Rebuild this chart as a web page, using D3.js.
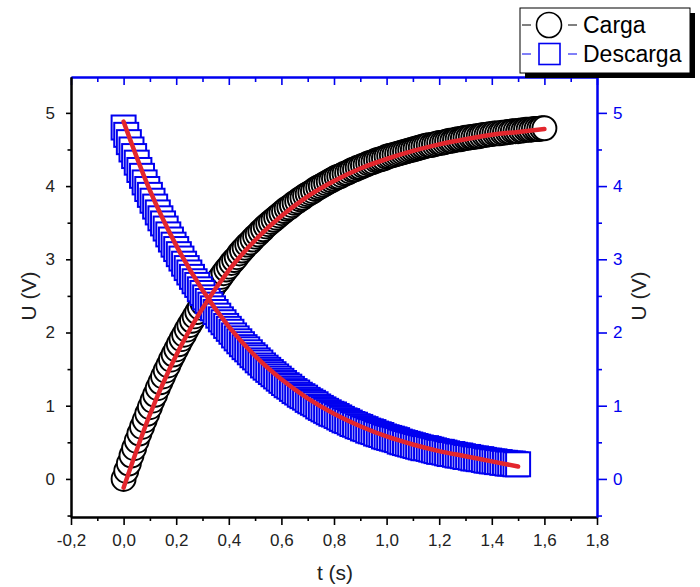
<html>

<head>
	<meta charset="utf-8">
	<script src="https://d3js.org/d3.v7.min.js"></script>
	<style>
		body { margin: 0; background: #fff; }
		text { font-family: "Liberation Sans", Arial, sans-serif; }
	</style>
</head>

<body>
	<svg width="700" height="587"></svg>
	<script>
		// charge measurement (t in s, U in V)
		var tCarga = [0, 0.01, 0.02, 0.03, 0.04, 0.05, 0.06, 0.07, 0.08, 0.09,
			0.10, 0.11, 0.12, 0.13, 0.14, 0.15, 0.16, 0.17, 0.18, 0.19,
			0.20, 0.21, 0.22, 0.23, 0.24, 0.25, 0.26, 0.27, 0.28, 0.29,
			0.30, 0.31, 0.32, 0.33, 0.34, 0.35, 0.36, 0.37, 0.38, 0.39,
			0.40, 0.41, 0.42, 0.43, 0.44, 0.45, 0.46, 0.47, 0.48, 0.49,
			0.50, 0.51, 0.52, 0.53, 0.54, 0.55, 0.56, 0.57, 0.58, 0.59,
			0.60, 0.61, 0.62, 0.63, 0.64, 0.65, 0.66, 0.67, 0.68, 0.69,
			0.70, 0.71, 0.72, 0.73, 0.74, 0.75, 0.76, 0.77, 0.78, 0.79,
			0.80, 0.81, 0.82, 0.83, 0.84, 0.85, 0.86, 0.87, 0.88, 0.89,
			0.90, 0.91, 0.92, 0.93, 0.94, 0.95, 0.96, 0.97, 0.98, 0.99,
			1.00, 1.01, 1.02, 1.03, 1.04, 1.05, 1.06, 1.07, 1.08, 1.09,
			1.10, 1.11, 1.12, 1.13, 1.14, 1.15, 1.16, 1.17, 1.18, 1.19,
			1.20, 1.21, 1.22, 1.23, 1.24, 1.25, 1.26, 1.27, 1.28, 1.29,
			1.30, 1.31, 1.32, 1.33, 1.34, 1.35, 1.36, 1.37, 1.38, 1.39,
			1.40, 1.41, 1.42, 1.43, 1.44, 1.45, 1.46, 1.47, 1.48, 1.49,
			1.50, 1.51, 1.52, 1.53, 1.54, 1.55, 1.56, 1.57, 1.58, 1.59,
			1.60];
		var uCarga = [0, 0.11, 0.21, 0.32, 0.42, 0.52, 0.62, 0.71, 0.80, 0.89,
			0.98, 1.07, 1.15, 1.24, 1.32, 1.40, 1.48, 1.55, 1.63, 1.70,
			1.77, 1.84, 1.91, 1.97, 2.04, 2.10, 2.16, 2.22, 2.28, 2.34,
			2.40, 2.45, 2.51, 2.56, 2.61, 2.67, 2.71, 2.76, 2.81, 2.86,
			2.90, 2.95, 2.99, 3.03, 3.08, 3.12, 3.16, 3.20, 3.23, 3.27,
			3.31, 3.34, 3.38, 3.41, 3.45, 3.48, 3.51, 3.54, 3.57, 3.60,
			3.63, 3.66, 3.69, 3.71, 3.74, 3.77, 3.79, 3.82, 3.84, 3.87,
			3.89, 3.91, 3.93, 3.96, 3.98, 4.00, 4.02, 4.04, 4.06, 4.08,
			4.10, 4.12, 4.13, 4.15, 4.17, 4.18, 4.20, 4.22, 4.23, 4.25,
			4.26, 4.28, 4.29, 4.31, 4.32, 4.33, 4.35, 4.36, 4.37, 4.38,
			4.40, 4.41, 4.42, 4.43, 4.44, 4.45, 4.46, 4.47, 4.48, 4.49,
			4.50, 4.51, 4.52, 4.53, 4.54, 4.55, 4.56, 4.56, 4.57, 4.58,
			4.59, 4.59, 4.60, 4.61, 4.62, 4.62, 4.63, 4.64, 4.64, 4.65,
			4.66, 4.66, 4.67, 4.67, 4.68, 4.68, 4.69, 4.70, 4.70, 4.71,
			4.71, 4.72, 4.72, 4.72, 4.73, 4.73, 4.74, 4.74, 4.75, 4.75,
			4.75, 4.76, 4.76, 4.77, 4.77, 4.77, 4.78, 4.78, 4.78, 4.79,
			4.79];

		// discharge measurement
		var tDescarga = [0, 0.01, 0.02, 0.03, 0.04, 0.05, 0.06, 0.07, 0.08, 0.09,
			0.10, 0.11, 0.12, 0.13, 0.14, 0.15, 0.16, 0.17, 0.18, 0.19,
			0.20, 0.21, 0.22, 0.23, 0.24, 0.25, 0.26, 0.27, 0.28, 0.29,
			0.30, 0.31, 0.32, 0.33, 0.34, 0.35, 0.36, 0.37, 0.38, 0.39,
			0.40, 0.41, 0.42, 0.43, 0.44, 0.45, 0.46, 0.47, 0.48, 0.49,
			0.50, 0.51, 0.52, 0.53, 0.54, 0.55, 0.56, 0.57, 0.58, 0.59,
			0.60, 0.61, 0.62, 0.63, 0.64, 0.65, 0.66, 0.67, 0.68, 0.69,
			0.70, 0.71, 0.72, 0.73, 0.74, 0.75, 0.76, 0.77, 0.78, 0.79,
			0.80, 0.81, 0.82, 0.83, 0.84, 0.85, 0.86, 0.87, 0.88, 0.89,
			0.90, 0.91, 0.92, 0.93, 0.94, 0.95, 0.96, 0.97, 0.98, 0.99,
			1.00, 1.01, 1.02, 1.03, 1.04, 1.05, 1.06, 1.07, 1.08, 1.09,
			1.10, 1.11, 1.12, 1.13, 1.14, 1.15, 1.16, 1.17, 1.18, 1.19,
			1.20, 1.21, 1.22, 1.23, 1.24, 1.25, 1.26, 1.27, 1.28, 1.29,
			1.30, 1.31, 1.32, 1.33, 1.34, 1.35, 1.36, 1.37, 1.38, 1.39,
			1.40, 1.41, 1.42, 1.43, 1.44, 1.45, 1.46, 1.47, 1.48, 1.49,
			1.50];
		var uDescarga = [4.80, 4.70, 4.60, 4.50, 4.41, 4.32, 4.22, 4.14, 4.05, 3.96,
			3.88, 3.80, 3.72, 3.64, 3.56, 3.49, 3.42, 3.34, 3.27, 3.20,
			3.14, 3.07, 3.01, 2.94, 2.88, 2.82, 2.76, 2.70, 2.65, 2.59,
			2.54, 2.48, 2.43, 2.38, 2.33, 2.28, 2.23, 2.18, 2.14, 2.09,
			2.05, 2.01, 1.96, 1.92, 1.88, 1.84, 1.80, 1.77, 1.73, 1.69,
			1.66, 1.62, 1.59, 1.55, 1.52, 1.49, 1.46, 1.43, 1.40, 1.37,
			1.34, 1.31, 1.28, 1.26, 1.23, 1.20, 1.18, 1.15, 1.13, 1.11,
			1.08, 1.06, 1.04, 1.02, 0.99, 0.97, 0.95, 0.93, 0.91, 0.89,
			0.88, 0.86, 0.84, 0.82, 0.80, 0.79, 0.77, 0.75, 0.74, 0.72,
			0.71, 0.69, 0.68, 0.66, 0.65, 0.64, 0.62, 0.61, 0.60, 0.58,
			0.57, 0.56, 0.55, 0.54, 0.53, 0.51, 0.50, 0.49, 0.48, 0.47,
			0.46, 0.45, 0.44, 0.43, 0.42, 0.42, 0.41, 0.40, 0.39, 0.38,
			0.37, 0.37, 0.36, 0.35, 0.34, 0.34, 0.33, 0.32, 0.32, 0.31,
			0.30, 0.30, 0.29, 0.28, 0.28, 0.27, 0.27, 0.26, 0.25, 0.25,
			0.24, 0.24, 0.23, 0.23, 0.22, 0.22, 0.21, 0.21, 0.21, 0.20,
			0.20];

		// fitted curves (red)
		var tFitCarga = [0, 0.1, 0.2, 0.3, 0.4, 0.5, 0.6, 0.7, 0.8, 0.9, 1.0, 1.1, 1.2, 1.3, 1.4, 1.5, 1.6];
		var uFitCarga = [-0.12, 0.88, 1.69, 2.33, 2.85, 3.26, 3.59, 3.86, 4.07, 4.24, 4.37, 4.48, 4.57, 4.64, 4.70, 4.74, 4.78];
		var tFitDescarga = [0, 0.1, 0.2, 0.3, 0.4, 0.5, 0.6, 0.7, 0.8, 0.9, 1.0, 1.1, 1.2, 1.3, 1.4, 1.5];
		var uFitDescarga = [4.88, 3.94, 3.19, 2.58, 2.08, 1.68, 1.36, 1.10, 0.89, 0.72, 0.58, 0.47, 0.38, 0.31, 0.24, 0.17];

		var xTicks = [-0.2, 0, 0.2, 0.4, 0.6, 0.8, 1.0, 1.2, 1.4, 1.6, 1.8];
		var xMinor = [-0.1, 0.1, 0.3, 0.5, 0.7, 0.9, 1.1, 1.3, 1.5, 1.7];
		var yTicks = [0, 1, 2, 3, 4, 5];
		var yMinor = [-0.5, 0.5, 1.5, 2.5, 3.5, 4.5];
		var legend = ["Carga", "Descarga"];

		var svg = d3.select("svg");
		var xLeft = 71, xRight = 597, yTop = 77, yBottom = 517;
		var blue = "#0000f0";
		var red = "#e3262d";

		var x = d3.scaleLinear().domain([-0.2, 1.8]).range([xLeft, xRight]);
		var y = d3.scaleLinear().domain([-0.52, 5.49]).range([yBottom, yTop]);

		var fmt = function (d) { return d3.format(".1f")(d).replace(".", ",").replace("\u2212", "-"); };

		// data markers
		svg.append("g")
			.selectAll("circle")
			.data(tCarga)
			.enter().append("circle")
			.attr("cx", function (d) { return x(d); })
			.attr("cy", function (d, i) { return y(uCarga[i]); })
			.attr("r", 12)
			.attr("fill", "white")
			.attr("stroke", "black")
			.attr("stroke-width", 1.9);

		svg.append("g")
			.selectAll("rect")
			.data(tDescarga)
			.enter().append("rect")
			.attr("x", function (d) { return x(d) - 12; })
			.attr("y", function (d, i) { return y(uDescarga[i]) - 12; })
			.attr("width", 24)
			.attr("height", 24)
			.attr("fill", "white")
			.attr("stroke", blue)
			.attr("stroke-width", 2);

		// fits
		var line = d3.line()
			.x(function (d) { return x(d[0]); })
			.y(function (d) { return y(d[1]); })
			.curve(d3.curveMonotoneX);

		svg.append("path")
			.datum(tFitCarga.map(function (t, i) { return [t, uFitCarga[i]]; }))
			.attr("d", line)
			.attr("fill", "none")
			.attr("stroke", red)
			.attr("stroke-width", 4.5)
			.attr("stroke-linecap", "round");

		svg.append("path")
			.datum(tFitDescarga.map(function (t, i) { return [t, uFitDescarga[i]]; }))
			.attr("d", line)
			.attr("fill", "none")
			.attr("stroke", red)
			.attr("stroke-width", 4.5)
			.attr("stroke-linecap", "round");

		// axes
		function styleAxis(g, color, size) {
			g.attr("font-family", null).attr("font-size", null);
			g.selectAll("path").attr("stroke", color).attr("stroke-width", 2);
			g.selectAll("line").attr("stroke", color).attr("stroke-width", 1.6);
			g.selectAll("text").attr("fill", color).style("font-size", size + "px");
		}

		svg.append("g")
			.attr("transform", "translate(0," + yBottom + ")")
			.call(d3.axisBottom(x).tickValues(xMinor).tickSize(4).tickSizeOuter(0).tickFormat(""))
			.call(styleAxis, "black", 0);
		svg.append("g")
			.attr("transform", "translate(0," + yBottom + ")")
			.call(d3.axisBottom(x).tickValues(xTicks).tickSize(8).tickSizeOuter(0).tickPadding(9).tickFormat(fmt))
			.call(styleAxis, "black", 17)
			.selectAll("text").attr("fill", "#222");

		svg.append("g")
			.attr("transform", "translate(0," + yTop + ")")
			.call(d3.axisBottom(x).tickValues(xMinor).tickSize(5).tickSizeOuter(0).tickFormat(""))
			.call(styleAxis, blue, 0);
		svg.append("g")
			.attr("transform", "translate(0," + yTop + ")")
			.call(d3.axisBottom(x).tickValues(xTicks).tickSize(8).tickSizeOuter(0).tickFormat(""))
			.call(styleAxis, blue, 0);

		svg.append("g")
			.attr("transform", "translate(" + xLeft + ",0)")
			.call(d3.axisLeft(y).tickValues(yMinor).tickSize(3.5).tickSizeOuter(0).tickFormat(""))
			.call(styleAxis, "black", 0);
		svg.append("g")
			.attr("transform", "translate(" + xLeft + ",0)")
			.call(d3.axisLeft(y).tickValues(yTicks).tickSize(5).tickSizeOuter(0).tickPadding(11).tickFormat(d3.format("d")))
			.call(styleAxis, "black", 17)
			.selectAll("text").attr("fill", "#222");

		svg.append("g")
			.attr("transform", "translate(" + xRight + ",0)")
			.call(d3.axisRight(y).tickValues(yMinor).tickSize(5).tickSizeOuter(0).tickFormat(""))
			.call(styleAxis, blue, 0);
		svg.append("g")
			.attr("transform", "translate(" + xRight + ",0)")
			.call(d3.axisRight(y).tickValues(yTicks).tickSize(10).tickSizeOuter(0).tickPadding(6).tickFormat(d3.format("d")))
			.call(styleAxis, blue, 17);

		// axis titles
		svg.append("text")
			.attr("x", 335)
			.attr("y", 580)
			.attr("text-anchor", "middle")
			.attr("font-size", 21)
			.attr("fill", "#222")
			.text("t (s)");

		svg.append("text")
			.attr("transform", "translate(29," + y(2.5) + ") rotate(-90)")
			.attr("text-anchor", "middle")
			.attr("dy", "0.35em")
			.attr("font-size", 21)
			.attr("fill", "#222")
			.text("U (V)");

		svg.append("text")
			.attr("transform", "translate(639," + y(2.5) + ") rotate(-90)")
			.attr("text-anchor", "middle")
			.attr("dy", "0.35em")
			.attr("font-size", 21)
			.attr("fill", "#222")
			.text("U (V)");

		// legend
		var lg = svg.append("g");
		lg.append("rect").attr("x", 525).attr("y", 13).attr("width", 170).attr("height", 65).attr("fill", "black");
		lg.append("rect").attr("x", 520).attr("y", 8).attr("width", 170).attr("height", 65)
			.attr("fill", "white").attr("stroke", "black").attr("stroke-width", 1);

		var rows = [25, 54];
		var legColor = ["black", blue];
		legend.forEach(function (name, i) {
			var cy = rows[i];
			lg.append("line").attr("x1", 522).attr("x2", 531).attr("y1", cy).attr("y2", cy)
				.attr("stroke", legColor[i]).attr("stroke-width", 1);
			lg.append("line").attr("x1", 568).attr("x2", 577).attr("y1", cy).attr("y2", cy)
				.attr("stroke", legColor[i]).attr("stroke-width", 1);
			if (i == 0) {
				lg.append("circle").attr("cx", 549).attr("cy", cy).attr("r", 12.5)
					.attr("fill", "white").attr("stroke", "black").attr("stroke-width", 1.6);
			} else {
				lg.append("rect").attr("x", 539).attr("y", cy - 10.5).attr("width", 21).attr("height", 21)
					.attr("fill", "white").attr("stroke", blue).attr("stroke-width", 1.6);
			}
			lg.append("text")
				.attr("x", 583)
				.attr("y", cy)
				.attr("dy", "0.36em")
				.attr("font-size", 23)
				.attr("fill", "black")
				.text(name);
		});
	</script>

</body>

</html>
